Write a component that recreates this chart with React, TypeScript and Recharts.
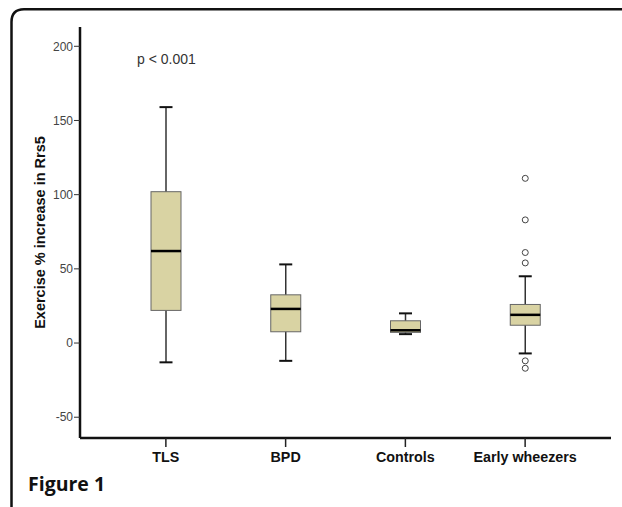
import { ComposedChart, Bar, XAxis, YAxis } from "recharts";

// Nhom (truc X)
const categories = ["TLS", "BPD", "Controls", "Early wheezers"];
// Gia tri hop: rau duoi, Q1, trung vi, Q3, rau tren
const whiskerLow = [-13, -12, 6, -7];
const q1 = [22, 7.6, 7.2, 12];
const medians = [62, 23, 8.6, 19];
const q3 = [102, 32.5, 15, 26];
const whiskerHigh = [159, 53, 20, 45];
// Diem ngoai lai cho tung nhom
const outliers: number[][] = [[], [], [], [111, 83, 61, 54, -12, -17]];
const yTicks = [-50, 0, 50, 100, 150, 200];

const data = categories.map((name, i) => ({
  name,
  range: [whiskerLow[i], whiskerHigh[i]],
  low: whiskerLow[i],
  q1: q1[i],
  median: medians[i],
  q3: q3[i],
  high: whiskerHigh[i],
  outliers: outliers[i],
}));

const BOX_FILL = "#d9d3a3";
const FONT = "Liberation Sans, Arial, sans-serif";

// Ve hop + rau; vi tri doc lay tu thang do cua Bar (khoang low..high)
function BoxShape(props: any) {
  const { x, y, width, height, payload } = props;
  if (x == null || y == null) return null;
  const top = Math.min(y, y + height);
  const bottom = Math.max(y, y + height);
  const { low, high } = payload;
  const toPx = (v: number) => top + ((high - v) / (high - low)) * (bottom - top);
  const cx = x + width / 2;
  const cap = 6.5;
  return (
    <g>
      <line x1={cx} x2={cx} y1={toPx(high)} y2={toPx(low)} stroke="#333" strokeWidth={1.5} />
      <line x1={cx - cap} x2={cx + cap} y1={toPx(high)} y2={toPx(high)} stroke="#111" strokeWidth={2} />
      <line x1={cx - cap} x2={cx + cap} y1={toPx(low)} y2={toPx(low)} stroke="#111" strokeWidth={2} />
      <rect
        x={x}
        y={toPx(payload.q3)}
        width={width}
        height={toPx(payload.q1) - toPx(payload.q3)}
        fill={BOX_FILL}
        stroke="#666"
        strokeWidth={1}
      />
      <line x1={x} x2={x + width} y1={toPx(payload.median)} y2={toPx(payload.median)} stroke="#000" strokeWidth={2.5} />
      {payload.outliers.map((v: number, k: number) => (
        <circle key={k} cx={cx} cy={toPx(v)} r={3} fill="#fff" stroke="#444" strokeWidth={1} />
      ))}
    </g>
  );
}

export default function App() {
  return (
    <div style={{ position: "fixed", left: 0, top: 0, width: 622, height: 507, background: "#fff", overflow: "hidden" }}>
      <svg width={622} height={507} style={{ position: "absolute", left: 0, top: 0 }}>
        <path d="M 11.5 507 V 22 Q 11.5 9.2 24 9.2 H 640" fill="none" stroke="#111" strokeWidth={2.5} />
      </svg>
      <ComposedChart
        width={622}
        height={507}
        data={data}
        margin={{ top: 27, right: 11, bottom: 39, left: 0 }}
        style={{ position: "absolute", left: 0, top: 0 }}
      >
        <XAxis
          dataKey="name"
          type="category"
          padding={{ left: 26, right: 26 }}
          height={30}
          tickSize={9}
          tickMargin={5}
          axisLine={{ stroke: "#111", strokeWidth: 2.5 }}
          tickLine={{ stroke: "#222", strokeWidth: 1.5 }}
          tick={{ fill: "#111", fontSize: 14.3, fontWeight: "bold", fontFamily: FONT }}
        />
        <YAxis
          type="number"
          domain={[-64, 213]}
          ticks={yTicks}
          allowDataOverflow
          width={80}
          tickSize={6}
          tickMargin={1}
          axisLine={{ stroke: "#111", strokeWidth: 2.5 }}
          tickLine={{ stroke: "#333", strokeWidth: 1 }}
          tick={{ fill: "#444", fontSize: 12, fontFamily: FONT }}
          label={{
            value: "Exercise % increase in Rrs5",
            angle: -90,
            position: "center",
            dx: 0,
            style: { fill: "#111", fontSize: 14.5, fontWeight: "bold", fontFamily: FONT, textAnchor: "middle" },
          }}
        />
        <Bar dataKey="range" barSize={30} shape={BoxShape} isAnimationActive={false} />
      </ComposedChart>
      <div
        style={{
          position: "absolute",
          left: 137,
          top: 51,
          fontFamily: FONT,
          fontSize: 14,
          color: "#333",
          whiteSpace: "nowrap",
        }}
      >
        p &lt; 0.001
      </div>
      <div
        style={{
          position: "absolute",
          left: 28,
          top: 470,
          fontFamily: "Open Sans, sans-serif",
          fontWeight: "bold",
          fontSize: 19.5,
          color: "#111",
          whiteSpace: "nowrap",
        }}
      >
        Figure 1
      </div>
    </div>
  );
}
